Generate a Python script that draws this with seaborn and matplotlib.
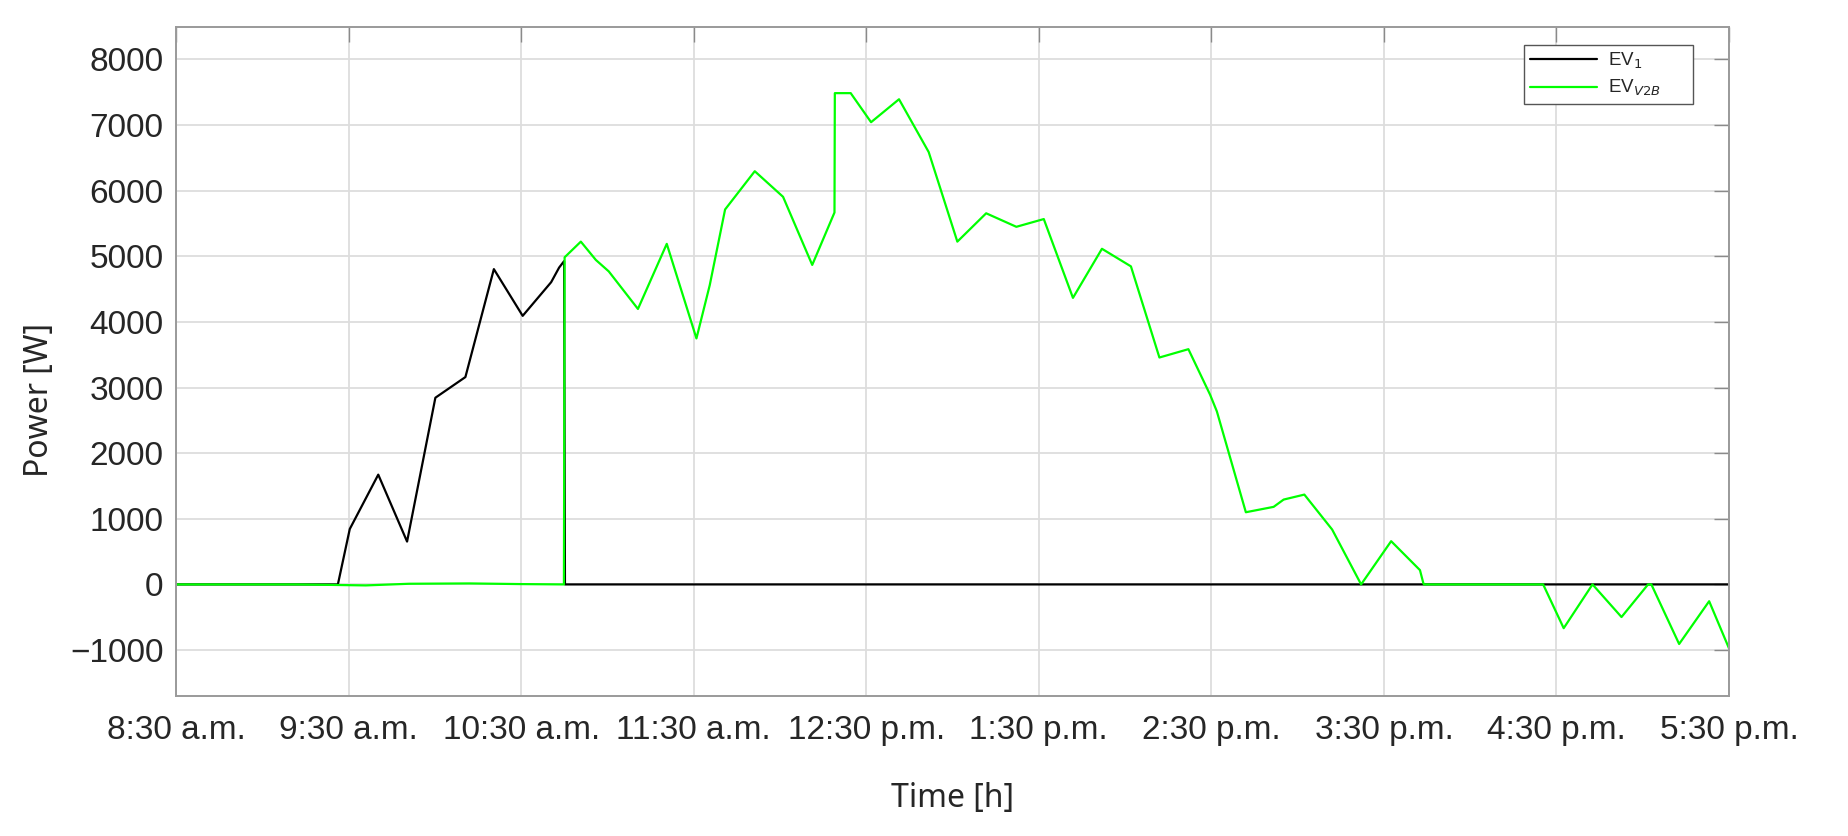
import pandas as pd
import seaborn as sns
import matplotlib.pyplot as plt

# EV1 charging power (time in decimal hours of the day)
ev1_time = [8.5, 9.438, 9.507, 9.672, 9.839, 10.003, 10.177, 10.342, 10.509,
            10.674, 10.720, 10.749, 10.754, 17.5]
ev1_power = [0, 0, 845, 1673, 653, 2845, 3160, 4805, 4093,
             4606, 4828, 4927, 0, 0]

# EV V2B power
v2b_time = [8.5, 9.2, 9.6, 9.75, 9.85, 10.2, 10.5, 10.748, 10.752,
            10.846, 10.933, 11.008, 11.177, 11.344, 11.516, 11.593, 11.682,
            11.854, 12.018, 12.187, 12.316, 12.318, 12.410, 12.528, 12.690,
            12.862, 13.028, 13.195, 13.370, 13.529, 13.698, 13.866, 14.034,
            14.199, 14.367, 14.493, 14.532, 14.700, 14.861, 14.919, 15.039,
            15.200, 15.368, 15.542, 15.709, 15.728, 15.732, 16.423, 16.542,
            16.709, 16.877, 17.031, 17.05, 17.211, 17.385, 17.5]
v2b_power = [0, 0, -15, 0, 10, 15, 5, 0, 4985,
             5224, 4945, 4770, 4198, 5190, 3749, 4560, 5714,
             6297, 5907, 4869, 5668, 7487, 7487, 7044, 7394,
             6589, 5224, 5656, 5450, 5568, 4367, 5115, 4847,
             3458, 3585, 2890, 2637, 1100, 1182, 1293, 1369,
             837, 0, 659, 218, 25, 0, 0, -667,
             0, -497, 0, 0, -908, -256, -974]

tick_hours = [8.5, 9.5, 10.5, 11.5, 12.5, 13.5, 14.5, 15.5, 16.5, 17.5]
tick_labels = ['8:30 a.m.', '9:30 a.m.', '10:30 a.m.', '11:30 a.m.', '12:30 p.m.',
               '1:30 p.m.', '2:30 p.m.', '3:30 p.m.', '4:30 p.m.', '5:30 p.m.']
y_ticks = [-1000, 0, 1000, 2000, 3000, 4000, 5000, 6000, 7000, 8000]

lbl1 = 'EV$_1$'
lbl2 = 'EV$_{V2B}$'
df = pd.concat([
    pd.DataFrame({'t': ev1_time, 'p': ev1_power, 'series': lbl1}),
    pd.DataFrame({'t': v2b_time, 'p': v2b_power, 'series': lbl2}),
], ignore_index=True)

sns.set_style('white')
plt.rcParams['font.family'] = ['Liberation Sans', 'DejaVu Sans']

fig = plt.figure(figsize=(18.49, 8.36), dpi=100)
ax = fig.add_axes([0.0952, 0.1675, 0.8399, 0.8006])

sns.lineplot(data=df, x='t', y='p', hue='series', palette={lbl1: 'black', lbl2: '#00ff00'},
             estimator=None, sort=False, linewidth=1.6, ax=ax, legend=False)

ax.set_xlim(8.5, 17.5)
ax.set_ylim(-1700, 8500)
ax.set_xticks(tick_hours)
ax.set_xticklabels(tick_labels)
ax.set_yticks(y_ticks)
ax.tick_params(axis='both', which='both', direction='in', length=11, width=1,
               color='#8a8a8a', labelsize=24, top=True, right=True)
ax.tick_params(axis='x', pad=14)
ax.tick_params(axis='y', pad=9)

# grid
ax.grid(True, color='#dddddd', linewidth=1.3)
ax.set_axisbelow(True)
for sp in ax.spines.values():
    sp.set_color('#9a9a9a')
    sp.set_linewidth(1.4)

# labels
ax.set_xlabel('Time [h]', fontsize=23, family=['Noto Sans', 'DejaVu Sans'])
ax.set_ylabel('Power [W]', fontsize=23, family=['Noto Sans', 'DejaVu Sans'])
ax.xaxis.set_label_coords(0.5, -0.128)
ax.yaxis.set_label_coords(-0.077, 0.442)

# legend
h1, = ax.plot([], [], color='black', lw=1.6)
h2, = ax.plot([], [], color='#00ff00', lw=1.6)
leg = ax.legend([h1, h2], [lbl1, lbl2 + '      '], loc='upper left', bbox_to_anchor=(0.868, 0.973),
                fontsize=13.5, handlelength=3.57, handletextpad=0.59, fancybox=False, framealpha=1,
                borderpad=0.3, labelspacing=0.4, borderaxespad=0)
leg.get_frame().set_edgecolor('#555555')
leg.get_frame().set_linewidth(1.0)

fig.savefig('out.png', dpi=100)
